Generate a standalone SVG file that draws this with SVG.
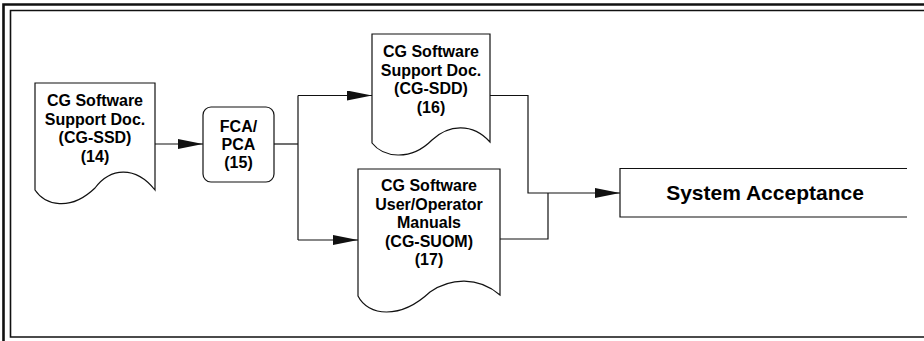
<svg xmlns="http://www.w3.org/2000/svg" width="924" height="341" viewBox="0 0 924 341">
  <style>
    .shape { fill: #ffffff; stroke: #111111; stroke-width: 1.2; }
    .conn { fill: none; stroke: #111111; stroke-width: 1.2; }
    .label { font-family: "Liberation Sans", Arial, sans-serif; font-weight: bold; font-size: 16px; fill: #000000; text-anchor: middle; }
    .big { font-size: 21px; }
    .frame-outer { fill: none; stroke: #111111; stroke-width: 2.6; }
    .frame-inner { fill: none; stroke: #111111; stroke-width: 1.6; }
  </style>
  <defs>
    <marker id="arrow" markerUnits="userSpaceOnUse" markerWidth="25" markerHeight="10" refX="25" refY="5" orient="auto">
      <path d="M0,0 L25,5 L0,10 Z" fill="#111111"/>
    </marker>
  </defs>

  <rect width="924" height="341" fill="#ffffff"/>

  <!-- double page frame (right side runs off the sheet) -->
  <g id="frame">
    <path class="frame-outer" d="M940,4.5 H3.5 V345"/>
    <path class="frame-inner" d="M940,10.5 H10.5 V337 H940"/>
  </g>

  <!-- connectors -->
  <g id="connectors">
    <path class="conn" d="M155,144 H203" marker-end="url(#arrow)"/>
    <path class="conn" d="M274,144 H298"/>
    <path class="conn" d="M298,95.5 V240"/>
    <path class="conn" d="M298,95.5 H372" marker-end="url(#arrow)"/>
    <path class="conn" d="M298,240 H358" marker-end="url(#arrow)"/>
    <path class="conn" d="M490,95.5 H528 V193 H620" marker-end="url(#arrow)"/>
    <path class="conn" d="M500,239 H548 V193"/>
  </g>

  <g id="node-ssd">
    <path class="shape" d="M35,83 H155 V190 C135,165 110,168 95,188 C70,212 45,205 35,190 Z"/>
    <text class="label" x="95" y="106">CG Software</text>
    <text class="label" x="95" y="124.5">Support Doc.</text>
    <text class="label" x="95" y="143">(CG-SSD)</text>
    <text class="label" x="95" y="161.5">(14)</text>
  </g>

  <g id="node-fca">
    <rect class="shape" x="203" y="107" width="71" height="75" rx="8" ry="8"/>
    <text class="label" x="238.5" y="132">FCA/</text>
    <text class="label" x="238.5" y="150">PCA</text>
    <text class="label" x="238.5" y="168">(15)</text>
  </g>

  <g id="node-sdd">
    <path class="shape" d="M372,34 H490 V142 C472,122 448,125 432,140 C410,162 383,157 372,143 Z"/>
    <text class="label" x="431" y="57">CG Software</text>
    <text class="label" x="431" y="75.5">Support Doc.</text>
    <text class="label" x="431" y="94">(CG-SDD)</text>
    <text class="label" x="431" y="112.5">(16)</text>
  </g>

  <g id="node-suom">
    <path class="shape" d="M358,169 H500 V295 C478,276 450,278 430,292 C400,320 368,316 358,296 Z"/>
    <text class="label" x="429" y="191">CG Software</text>
    <text class="label" x="429" y="209.5">User/Operator</text>
    <text class="label" x="429" y="228">Manuals</text>
    <text class="label" x="429" y="246.5">(CG-SUOM)</text>
    <text class="label" x="429" y="265">(17)</text>
  </g>

  <g id="node-acceptance">
    <rect x="620" y="168.5" width="287" height="48.5" fill="#ffffff"/>
    <path class="conn" d="M907,168.5 H620 V217 H907"/>
    <text class="label big" x="765" y="200">System Acceptance</text>
  </g>
</svg>
